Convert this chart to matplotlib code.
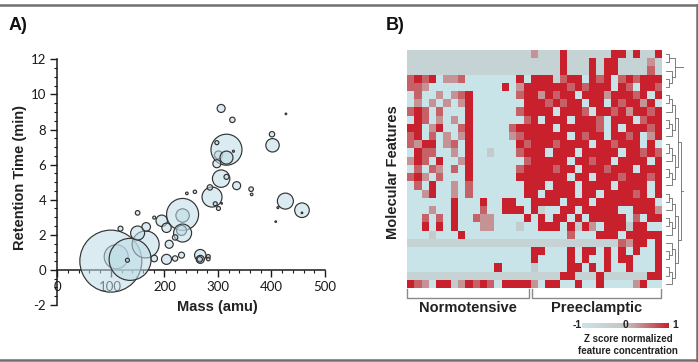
import numpy as np
import matplotlib
matplotlib.use("Agg")
import matplotlib.pyplot as plt
from matplotlib.colors import LinearSegmentedColormap
from matplotlib.lines import Line2D
from matplotlib.ticker import MultipleLocator

plt.rcParams['font.family'] = ['Liberation Sans', 'DejaVu Sans']
plt.rcParams['axes.unicode_minus'] = False

# ---- Panel A: molecular features (mass, retention time, bubble radius) ----
mass = [110, 100, 165, 136, 131, 150, 166, 118, 150, 181, 195, 204,
        234, 234, 232, 234, 209, 220, 204, 220, 232, 181,
        267, 267, 266, 282, 282, 242, 257, 289, 285, 295, 301, 307,
        306, 316, 335, 301, 316, 316, 298, 298, 329, 306, 327,
        401, 402, 427, 362, 363, 426, 412, 457, 457, 408]
rt = [0.75, 0.5, 1.45, 0.6, 0.55, 2.1, 2.45, 2.35, 3.25, 2.98, 2.8, 2.4,
      3.1, 3.16, 2.25, 2.1, 1.46, 1.85, 0.6, 0.65, 0.84, 0.65,
      0.84, 0.6, 0.6, 0.76, 0.62, 4.36, 4.45, 4.15, 4.7, 3.77, 3.5, 3.79,
      5.2, 5.3, 4.8, 6.55, 6.85, 6.4, 6.05, 7.25, 6.76, 9.2, 8.55,
      7.73, 7.1, 8.89, 4.6, 4.3, 3.92, 3.55, 3.4, 3.25, 2.75]
bubble = [12, 31, 13.5, 21, 2, 7, 4.3, 2.5, 2.3, 1.5, 5.7, 4.7,
          6.7, 16, 5, 9, 4, 2.7, 5, 2.7, 3, 3.3,
          5.7, 4, 2.7, 2, 1.8, 1.3, 1.7, 10, 2.7, 2, 2, 0.8,
          8.7, 2.5, 4, 4, 15.5, 6.5, 4, 2, 1, 4, 2.7,
          2.7, 6.7, 0.8, 2.3, 1.3, 8, 1, 7.3, 0.8, 0.8]

mass_ticks = [0, 100, 200, 300, 400, 500]
rt_ticks = [-2, 0, 2, 4, 6, 8, 10, 12]

# ---- Panel B: z-scored feature concentrations, one character per sample ----
# '.' low (-1), 'g'/'q' greyish, 'p'/'P' pinkish, 'R' high (+1)
heat_rows = [
    "ggggggggggggggggg" + "pgggRggggggRRgRggR",
    "ggggggggggggggggg" + "ggggRgggRgRRggggpg",
    "ggggggggggggggggg" + "ggggRgggRgRRggggPg",
    "PRPR.ppP.......R." + "RRRgPRR.RPR.PRPRRR",
    "PPp..........R.pR" + "RRRRRPRPRRR.RP.RRP",
    ".P..p.pPR......PR" + "RpRPRR.RRRpRRRPR.R",
    ".p.p.p.pR.......R" + "RRPRPRR.RR.RPRRpR.",
    "PRP.P...R......PR" + "RRR.RRRP.RRPRpRRPR",
    ".RP.p.p.R.......P" + "R.RRR.RRRP.RRR.PRR",
    "RR.pR..PR.....PRR" + "RRR.RRRRRP.R.RRRPR",
    "PR.P.p.pR.....pPR" + "RRRRR.RPRR.RRPR.pR",
    "PpRR.pP.R......RP" + "RRRPRRRR.RRPRRR.R.",
    ".RPP..p.R..q...PR" + "RR.RRR.RRRRR.RRPRP",
    "pRP.R..pR.......P" + "RRRRR.RRPRR.RRRR.R",
    ".P.Pp.P.R......PR" + "RRRPRR.RRRPRRR.RRR",
    "PRp.P...R......RR" + "RRRRR.RR.RRRPRRRPR",
    ".P.R..p.P.......R" + "RR.RRR.RRRR.RRRR.R",
    "..pR..p.P.......R" + "R.RRRR.RR.RRRRPR.R",
    "......R...R..RR.." + "RRRR.RRR.RRRRRRRR.",
    "...p..R...P..RRR." + "Rg..RR.RRRRR..RRRp",
    "..P.P.R..Ppp....R" + ".R.RR.R.RRRRR.P.RR",
    "..R.R.R...pp...q." + ".RRR.RqRp.RRRqRR..",
    "...q...R........." + ".....P...RRR.RRRRR",
    "ggggggggggggggggg" + "ggggggggggggPpRR.R",
    "................." + "RR...R.RR.R.R.R..R",
    "................." + "R....R.R..R.RR...R",
    "............R...." + "q....RR.R.R..R...R",
    "ggggggggggggggggg" + "ggggRRgggRggggggRR",
    "RPp.RRqpRPRP.RRRR" + "p.RR..R..R....pR..",
]
levels = {'.': -1.0, 'g': -0.5, 'q': -0.25, 'p': 0.3, 'P': 0.6, 'R': 1.0}
n_normo = 17
groups = ["Normotensive", "Preeclamptic"]

# row clustering (leaf = row index)
tree = (((0, 1), (2, (3, 4))),
        (((((5, 6), 7), ((8, 9), 10)), (((11, 12), 13), ((14, 15), 16))),
         ((((17, 18), 19), ((20, 21), 22)), ((23, (24, 25)), ((26, 27), 28)))))

heat = np.array([[levels[c] for c in row] for row in heat_rows])
n_rows, n_cols = heat.shape

W, H = 698, 362
fig = plt.figure(figsize=(W / 100, H / 100), dpi=100)


def fx(px):
    return px / W


def fy(py):
    return 1 - py / H


# ---------------- Panel A ----------------
axA = fig.add_axes([fx(57.3), fy(305), fx(267.7), 245.7 / H])
sizes = (np.array(bubble) * 1.44) ** 2
axA.scatter(mass, rt, s=sizes, facecolor=(0.74, 0.86, 0.9, 0.55),
            edgecolor='#333333', linewidth=0.85, clip_on=False, zorder=3)
axA.set_xlim(0, 500)
axA.set_ylim(-2, 12)
axA.spines['top'].set_visible(False)
axA.spines['right'].set_visible(False)
axA.spines['bottom'].set_position(('data', 0))
for s in ['left', 'bottom']:
    axA.spines[s].set_linewidth(1.1)
    axA.spines[s].set_color('#1a1a1a')
axA.set_xticks(mass_ticks)
axA.set_yticks(rt_ticks)
axA.xaxis.set_minor_locator(MultipleLocator(20))
axA.yaxis.set_minor_locator(MultipleLocator(0.5))
axA.tick_params(which='major', length=5, width=1, direction='out',
                labelsize=9.5, colors='#1a1a1a', pad=3)
axA.tick_params(which='minor', length=2.5, width=0.8, direction='out',
                colors='#1a1a1a')
for lbl in axA.get_xticklabels() + axA.get_yticklabels():
    lbl.set_fontfamily('Lato')

fig.text(fx(20), fy(178), "Retention Time (min)", rotation=90,
         ha='center', va='center', fontsize=10.5, fontweight='bold', color='#222222')
fig.text(fx(217.5), fy(307), "Mass (amu)", ha='center', va='center',
         fontsize=10.5, fontweight='bold', color='#222222')
fig.text(fx(9), fy(25), "A)", ha='left', va='center', fontsize=13,
         fontweight='bold', color='#111111')

# ---------------- Panel B ----------------
cmap = LinearSegmentedColormap.from_list(
    "zs", [(0.0, '#c8e4e8'), (0.5, '#c4c4c4'), (1.0, '#c8202c')])

axH = fig.add_axes([fx(406.7), fy(288), fx(255), 238 / H])
im = axH.imshow(heat, cmap=cmap, vmin=-1, vmax=1, aspect='auto',
                interpolation='nearest')
axH.set_xlim(-0.5, n_cols - 0.5)
axH.set_ylim(n_rows - 0.5, -0.5)
axH.axis('off')

# group brackets under the heatmap
trans = axH.get_xaxis_transform()
spans = [(-0.45, n_normo - 0.7), (n_normo - 0.25, n_cols - 0.6)]
for (x0, x1), name in zip(spans, groups):
    axH.plot([x0, x0, x1, x1], [-0.004, -0.04, -0.04, -0.004], color='#8a8a8a',
             lw=1, transform=trans, clip_on=False)
    axH.text((x0 + x1) / 2, -0.085, name, transform=trans, ha='center',
             va='center', fontsize=10.5, fontweight='bold', color='#222222')

fig.text(fx(393), fy(172), "Molecular Features", rotation=90, ha='center',
         va='center', fontsize=10.5, fontweight='bold', color='#222222')
fig.text(fx(386), fy(25), "B)", ha='left', va='center', fontsize=13,
         fontweight='bold', color='#111111')

# dendrogram
axD = fig.add_axes([fx(666), fy(288), fx(18), 238 / H])


def draw_tree(ax, node):
    if isinstance(node, int):
        return node, 0
    (y1, h1), (y2, h2) = [draw_tree(ax, c) for c in node]
    h = max(h1, h2) + 1
    ax.plot([h1, h, h, h2], [y1, y1, y2, y2], color='#6a6a6a', lw=0.6)
    return (y1 + y2) / 2, h


_, top_h = draw_tree(axD, tree)
axD.set_ylim(n_rows - 0.5, -0.5)
axD.set_xlim(0, top_h)
axD.axis('off')

# colour scale
cax = fig.add_axes([fx(581.7), fy(327.5), fx(87.3), 4.5 / H])
cb = fig.colorbar(im, cax=cax, orientation='horizontal')
cb.outline.set_visible(False)
cax.set_xticks([])
for xpos, txt, ha in [(0.0, '-1', 'right'), (0.5, '0', 'center'), (1.04, '1', 'left')]:
    cax.text(xpos, 0.5, txt, transform=cax.transAxes, ha=ha, va='center',
             fontsize=7.5, fontweight='bold', color='#222222')
fig.text(fx(628), fy(345), "Z score normalized\nfeature concentration",
         ha='center', va='center', fontsize=7, fontweight='bold',
         color='#222222', linespacing=1.3)

# outer frame lines
for xs, ys in [([0, 1], [fy(5), fy(5)]), ([0, 1], [fy(359.5), fy(359.5)]),
               ([fx(697), fx(697)], [fy(5), fy(359.5)])]:
    fig.add_artist(Line2D(xs, ys, color='#707070', lw=1.8,
                          transform=fig.transFigure))

fig.savefig("out.png", dpi=100)
